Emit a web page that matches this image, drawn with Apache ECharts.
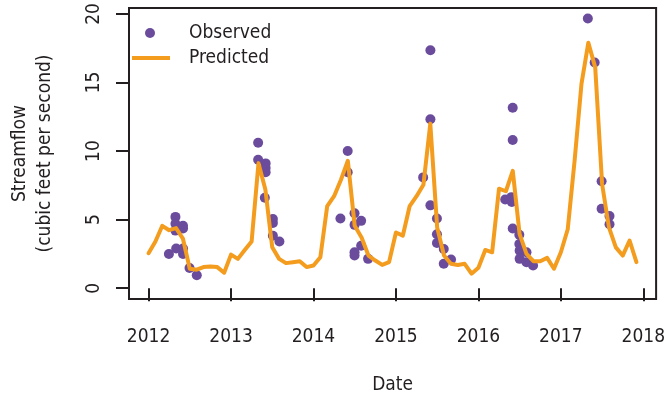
<!DOCTYPE html>
<html>
<head>
<meta charset="utf-8">
<script src="https://cdn.jsdelivr.net/npm/echarts@6/dist/echarts.min.js"></script>
<style>html,body{margin:0;padding:0;background:#fff}#c{width:668px;height:400px}</style>
</head>
<body>
<div id="c"></div>
<script>
// ---- data ----
const xTickLabels = [2012, 2013, 2014, 2015, 2016, 2017, 2018];
const yTickLabels = [0, 5, 10, 15, 20];

// Predicted streamflow, monthly, Jan 2012 .. Dec 2017
const predStartYear = 2012;
const pred2012 = [2.55, 3.41, 4.55, 4.23, 4.38, 3.62, 1.42, 1.35, 1.54, 1.59, 1.54, 1.13];
const pred2013 = [2.45, 2.14, 2.78, 3.41, 9.12, 7.19, 2.98, 2.14, 1.83, 1.90, 1.97, 1.54];
const pred2014 = [1.66, 2.26, 5.99, 6.71, 7.91, 9.29, 4.55, 3.70, 2.38, 2.02, 1.70, 1.90];
const pred2015 = [4.06, 3.83, 5.99, 6.71, 7.55, 12.0, 4.43, 2.38, 1.78, 1.70, 1.78, 1.06];
const pred2016 = [1.49, 2.79, 2.62, 7.26, 7.07, 8.56, 3.94, 2.50, 1.97, 1.97, 2.21, 1.42];
const pred2017 = [2.62, 4.30, 9.30, 14.9, 17.9, 16.1, 7.60, 4.43, 2.98, 2.38, 3.48, 1.90];

// Observed streamflow (decimal-year dates)
const obsDates = [
  2012.247, 2012.326, 2012.326, 2012.326, 2012.335, 2012.418, 2012.418, 2012.418, 2012.418, 2012.497, 2012.585,
  2013.329, 2013.329, 2013.420, 2013.420, 2013.420, 2013.410, 2013.508, 2013.508, 2013.508, 2013.587,
  2014.415, 2014.415, 2014.327, 2014.498, 2014.498, 2014.578, 2014.578, 2014.498, 2014.498, 2014.662,
  2015.418, 2015.418, 2015.330, 2015.418, 2015.497, 2015.497, 2015.497, 2015.580, 2015.668, 2015.580,
  2016.416, 2016.416, 2016.325, 2016.400, 2016.405, 2016.416, 2016.496, 2016.496, 2016.500, 2016.500, 2016.583, 2016.583, 2016.663,
  2017.327, 2017.410, 2017.494, 2017.494, 2017.590, 2017.590
];
const obsValues = [
  2.50, 5.20, 4.70, 4.20, 2.90, 4.55, 4.35, 2.90, 2.50, 1.48, 0.95,
  10.61, 9.36, 9.10, 8.76, 8.45, 6.59, 5.05, 4.75, 3.83, 3.41,
  10.00, 8.45, 5.08, 5.46, 4.62, 4.91, 3.10, 2.62, 2.38, 2.14,
  17.35, 12.32, 8.08, 6.04, 5.08, 3.94, 3.30, 2.86, 2.09, 1.78,
  13.16, 10.80, 6.47, 6.64, 6.28, 4.35, 3.90, 3.22, 2.74, 2.14, 2.62, 1.90, 1.66,
  19.66, 16.46, 7.80, 5.80, 5.27, 4.66
];

// ---- build ----
const predAll = [].concat(pred2012, pred2013, pred2014, pred2015, pred2016, pred2017);
const predData = predAll.map((v, i) => [predStartYear + i / 12, v]);
const obsData = obsDates.map((d, i) => [d, obsValues[i]]);

const FONT = "'DejaVu Sans Condensed','Liberation Sans Narrow','Roboto',sans-serif";
const TXT = '#231f20';
const PURPLE = '#6b4c9c';
const ORANGE = '#f39c1e';

const chart = echarts.init(document.getElementById('c'), null, {renderer: 'canvas'});
chart.setOption({
  animation: false,
  backgroundColor: '#ffffff',
  textStyle: {fontFamily: FONT, color: TXT},
  grid: {left: 126, right: 7, top: 8, bottom: 98, show: true, borderColor: TXT, borderWidth: 2, backgroundColor: 'transparent'},
  legend: [
    {
      data: [{name: 'Observed', icon: 'circle'}], left: 145, top: 23, padding: 0,
      itemWidth: 10, itemHeight: 10, selectedMode: false,
      textStyle: {fontFamily: FONT, fontSize: 19, color: TXT, lineHeight: 20, padding: [0, 0, 0, 29]}
    },
    {
      data: [{name: 'Predicted', icon: 'rect'}], left: 132, top: 48, padding: 0,
      itemWidth: 38, itemHeight: 4, selectedMode: false,
      textStyle: {fontFamily: FONT, fontSize: 19, color: TXT, lineHeight: 20, padding: [0, 0, 0, 14]}
    }
  ],
  xAxis: {
    type: 'value', min: 2011.763, max: 2018.155,
    axisLine: {show: false}, splitLine: {show: false},
    axisTick: {show: true, customValues: xTickLabels, length: 13, lineStyle: {color: TXT, width: 2}},
    axisLabel: {customValues: xTickLabels, margin: 29, fontSize: 19, color: TXT, fontFamily: FONT, formatter: v => String(v)},
    name: 'Date', nameLocation: 'middle', nameGap: 77,
    nameTextStyle: {fontSize: 19, color: TXT, fontFamily: FONT}
  },
  yAxis: {
    type: 'value', min: -0.786, max: 20.43,
    axisLine: {show: false}, splitLine: {show: false},
    axisTick: {show: true, customValues: yTickLabels, length: 13, lineStyle: {color: TXT, width: 2}},
    axisLabel: {customValues: yTickLabels, rotate: 90, margin: 25, fontSize: 19, color: TXT, fontFamily: FONT, formatter: v => String(v)},
    name: 'Streamflow\n(cubic feet per second)', nameLocation: 'middle', nameGap: 71,
    nameTextStyle: {fontSize: 19, color: TXT, fontFamily: FONT, lineHeight: 25}
  },
  series: [
    {
      name: 'Observed', type: 'scatter', data: obsData, symbol: 'circle', symbolSize: 10,
      itemStyle: {color: PURPLE, opacity: 1}, z: 2
    },
    {
      name: 'Predicted', type: 'line', data: predData, symbol: 'none', showSymbol: false,
      lineStyle: {color: ORANGE, width: 4, join: 'round', cap: 'round'}, itemStyle: {color: ORANGE}, z: 3
    }
  ]
});
</script>
</body>
</html>
